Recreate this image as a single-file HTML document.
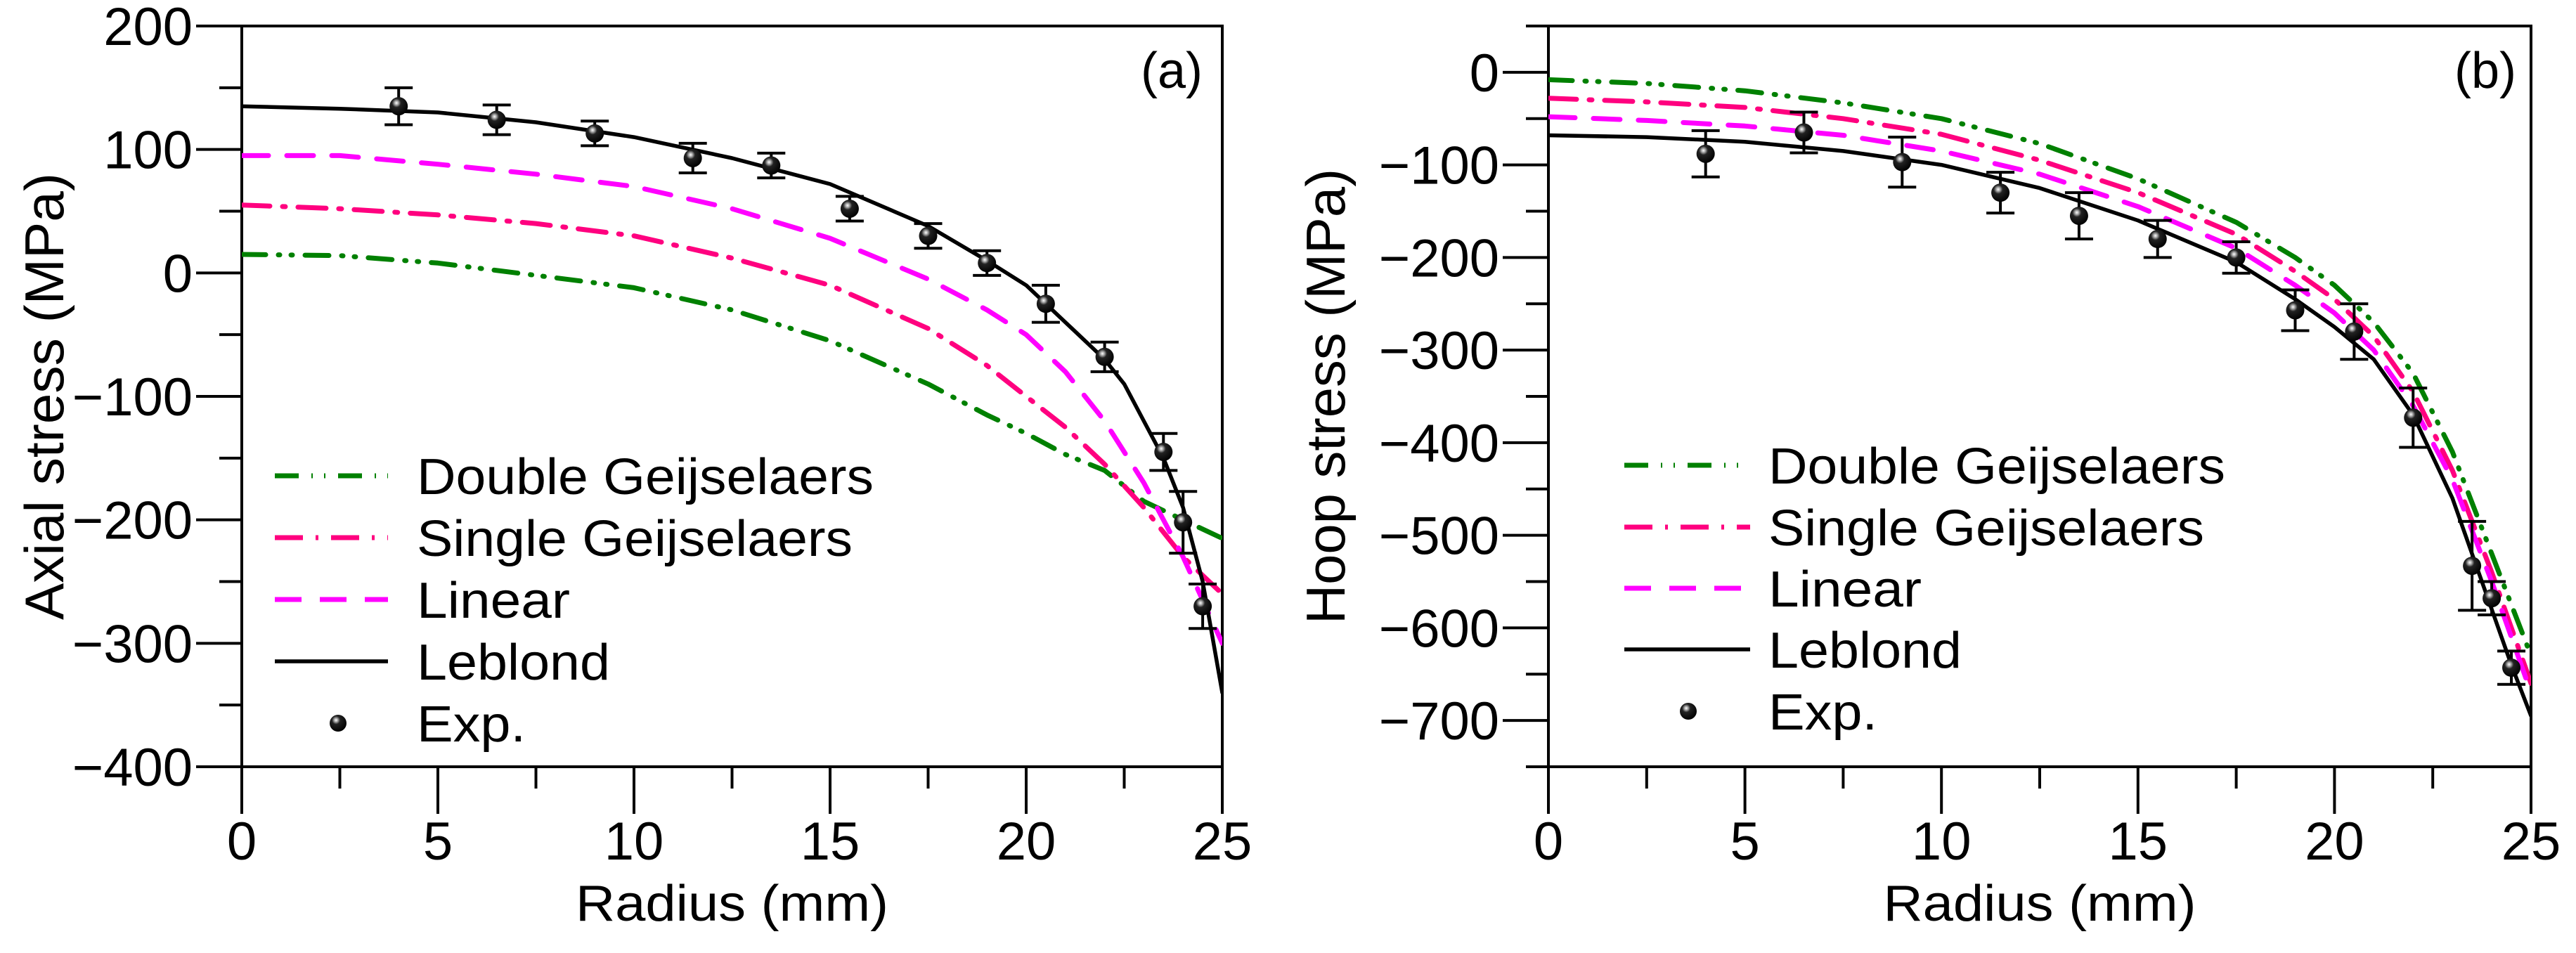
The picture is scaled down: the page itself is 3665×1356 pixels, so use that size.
<!DOCTYPE html>
<html><head><meta charset="utf-8"><style>
html,body{margin:0;padding:0;background:#fff}
svg{display:block}
text{font-family:"Liberation Sans",sans-serif;fill:#000}
</style></head><body>
<svg id="c" width="3665" height="1356" viewBox="0 0 3665 1356" xmlns="http://www.w3.org/2000/svg">
<defs>
<radialGradient id="ball" cx="0.38" cy="0.32" r="0.7">
<stop offset="0" stop-color="#fff"/><stop offset="0.15" stop-color="#aaa"/><stop offset="0.35" stop-color="#222"/><stop offset="1" stop-color="#000"/>
</radialGradient>
<clipPath id="clipA"><rect x="344" y="37" width="1395" height="1054"/></clipPath>
<clipPath id="clipB"><rect x="2203" y="37" width="1398" height="1054"/></clipPath>
</defs>
</svg>
<script>
// ---- Panel (a) data: axial stress ----
const radiusA = [0, 2.5, 5, 7.5, 10, 12.5, 15, 17.5, 19, 20, 21, 22, 22.5, 23, 23.5, 24, 24.5, 25];
const leblondA = [135, 133, 130, 122, 110, 93, 72, 38, 10, -10, -40, -70, -90, -120, -150, -190, -250, -340];
const radiusLinA = [0, 2.5, 5, 7.5, 10, 12.5, 15, 17.5, 19, 20, 21, 22, 23, 24, 24.5, 25];
const linearA = [95, 95, 88, 80, 70, 52, 28, -5, -30, -50, -80, -120, -170, -230, -265, -300];
const radiusGA = [0, 2.5, 5, 7.5, 10, 12.5, 15, 17.5, 19, 20, 21, 22, 23, 24, 25];
const singleA = [55, 52, 47, 40, 30, 12, -10, -45, -75, -100, -125, -155, -190, -230, -260];
const doubleA = [15, 14, 8, -2, -12, -30, -55, -90, -115, -130, -147, -160, -185, -200, -215];
const expRA = [4, 6.5, 9, 11.5, 13.5, 15.5, 17.5, 19, 20.5, 22, 23.5, 24, 24.5];
const expA = [135, 124, 113, 93, 87, 52, 30, 8, -25, -68, -145, -202, -270];
const errA = [15, 12, 10, 12, 10, 10, 10, 10, 15, 12, 15, 25, 18];
const yTicksA = [200, 100, 0, -100, -200, -300, -400];
// ---- Panel (b) data: hoop stress ----
const radiusB = [0, 2.5, 5, 7.5, 10, 12.5, 15, 17.5, 19, 20, 21, 22, 23, 23.5, 24, 24.5, 25];
const leblondB = [-68, -70, -75, -85, -100, -125, -160, -205, -245, -275, -310, -370, -460, -520, -580, -640, -695];
const radiusMB = [0, 2.5, 5, 7.5, 10, 12.5, 15, 17.5, 19, 20, 21, 22, 23, 24, 25];
const linearB = [-48, -52, -58, -68, -85, -110, -145, -190, -230, -260, -300, -360, -440, -550, -670];
const singleB = [-28, -32, -38, -50, -67, -95, -130, -175, -215, -245, -285, -345, -430, -540, -660];
const doubleB = [-8, -12, -20, -33, -50, -77, -115, -162, -200, -230, -270, -325, -410, -520, -630];
const expRB = [4, 6.5, 9, 11.5, 13.5, 15.5, 17.5, 19, 20.5, 22, 23.5, 24, 24.5];
const expB = [-88, -65, -97, -130, -155, -180, -200, -257, -280, -373, -533, -568, -643];
const errB = [25, 22, 27, 22, 25, 20, 17, 22, 30, 32, 48, 18, 18];
const yTicksB = [0, -100, -200, -300, -400, -500, -600, -700];
const xTicks = [0, 5, 10, 15, 20, 25];

const NS = "http://www.w3.org/2000/svg";
const svg = document.getElementById('c');
function mk(tag, attrs, parent) {
  const e = document.createElementNS(NS, tag);
  for (const k in attrs) e.setAttribute(k, attrs[k]);
  (parent || svg).appendChild(e);
  return e;
}
function txt(s, attrs, parent) { const t = mk('text', attrs, parent); t.textContent = s; return t; }

function panel(cfg) {
  const g = mk('g', {});
  
  
  const L = cfg.L, R = cfg.R, T = 37, B = 1091;
  const sx = v => L + (v - 0) / 25 * (R - L);
  const sy = v => T + (cfg.ymax - v) / (cfg.ymax - cfg.ymin) * (B - T);
  const fr = mk('rect', {x: L, y: T, width: R - L, height: B - T, fill: 'none', stroke: '#000', 'stroke-width': 4}, g);
  
  
  for (let v = cfg.ymin; v <= cfg.ymax; v += 50) {
    const major = v % 100 === 0;
    const tk = mk('line', {x1: L - (major ? 65 : 32), x2: L, y1: sy(v), y2: sy(v), stroke: '#000', 'stroke-width': 4}, g);
    
    
  }
  cfg.yTicks.forEach(v => {
    const s = (v < 0 ? '\u2212' + (-v) : String(v));
    const t = txt(s, {x: L - 70, y: sy(v) + 27, 'font-size': 76, 'text-anchor': 'end'}, g);
    
    
  });
  for (let v = 0; v <= 25; v += 2.5) {
    const major = v % 5 === 0;
    const tk = mk('line', {x1: sx(v), x2: sx(v), y1: B, y2: B + (major ? 67 : 31), stroke: '#000', 'stroke-width': 4}, g);
    
    
  }
  xTicks.forEach(v => {
    const t = txt(String(v), {x: sx(v), y: B + 132, 'font-size': 76, 'text-anchor': 'middle'}, g);
    
    
  });
  const xt = txt('Radius (mm)', {x: (L + R) / 2, y: 1310, 'font-size': 72, 'text-anchor': 'middle', textLength: 445, lengthAdjust: 'spacingAndGlyphs'}, g);
  
  
  const yt = txt(cfg.ytitle, {x: 0, y: 0, 'font-size': 78, 'text-anchor': 'middle', transform: `translate(${cfg.ytx},${(T + B) / 2}) rotate(-90)`, textLength: cfg.ytlen, lengthAdjust: 'spacingAndGlyphs'}, g);
  
  
  const pl = txt(cfg.label, {x: cfg.lblx, y: 125, 'font-size': 72, 'text-anchor': 'middle'}, g);
  
  

  const cg = mk('g', {'clip-path': `url(#${cfg.clip})`}, g);
  function series(xs, ys, color, dash, name) {
    const d = xs.map((x, i) => (i ? 'L' : 'M') + sx(x).toFixed(1) + ',' + sy(ys[i]).toFixed(1)).join(' ');
    const p = mk('path', {d: d, fill: 'none', stroke: color, 'stroke-width': dash ? 7 : 5.5, 'stroke-dasharray': dash || 'none', 'stroke-linecap': 'round', 'stroke-linejoin': 'round'}, cg);
    
    
  }
  series(cfg.dx, cfg.dbl, '#008000', '34,18,2,16,2,18', 'double-geijselaers-line');
  series(cfg.dx, cfg.sgl, '#ff007f', '40,18,4,18', 'single-geijselaers-line');
  series(cfg.lx, cfg.lin, '#ff00ff', '38,26', 'linear-line');
  series(cfg.bx, cfg.leb, '#000', null, 'leblond-line');
  cfg.ex.forEach((x, i) => {
    const cx = sx(x), cy = sy(cfg.ey[i]), e = cfg.ee[i];
    const eg = mk('g', {}, g);
    
    
    mk('line', {x1: cx, x2: cx, y1: sy(cfg.ey[i] + e), y2: sy(cfg.ey[i] - e), stroke: '#000', 'stroke-width': 4}, eg);
    mk('line', {x1: cx - 20, x2: cx + 20, y1: sy(cfg.ey[i] + e), y2: sy(cfg.ey[i] + e), stroke: '#000', 'stroke-width': 4}, eg);
    mk('line', {x1: cx - 20, x2: cx + 20, y1: sy(cfg.ey[i] - e), y2: sy(cfg.ey[i] - e), stroke: '#000', 'stroke-width': 4}, eg);
    mk('circle', {cx: cx, cy: cy, r: 13, fill: 'url(#ball)'}, eg);
  });
  const lg = mk('g', {}, g);
  
  
  const items = [
    ['Double Geijselaers', '#008000', '34,18,2,16,2,18', 650],
    ['Single Geijselaers', '#ff007f', '40,18,4,18', 620],
    ['Linear', '#ff00ff', '38,26', 218],
    ['Leblond', '#000', null, 275],
    ['Exp.', null, null, 155]
  ];
  items.forEach((it, i) => {
    const y = cfg.legY[i];
    const eg = mk('g', {}, lg);
    
    
    if (it[1]) {
      mk('line', {x1: cfg.legX1, x2: cfg.legX2, y1: y, y2: y, stroke: it[1], 'stroke-width': it[2] ? 7 : 5.5, 'stroke-dasharray': it[2] || 'none'}, eg);
    } else {
      mk('circle', {cx: cfg.legDot, cy: y, r: 12, fill: 'url(#ball)'}, eg);
    }
    txt(it[0], {x: cfg.legTx, y: y + 26, 'font-size': 72, textLength: it[3], lengthAdjust: 'spacingAndGlyphs'}, eg);
  });
}

panel({name: 'axial-stress-chart', L: 344, R: 1739, ymin: -400, ymax: 200, yTicks: yTicksA,
  ytitle: 'Axial stress (MPa)', ytx: 90, ytlen: 636, label: '(a)', lblx: 1667, clip: 'clipA',
  dx: radiusGA, dbl: doubleA, sgl: singleA, lx: radiusLinA, lin: linearA, bx: radiusA, leb: leblondA,
  ex: expRA, ey: expA, ee: errA,
  legY: [677, 765, 853, 941, 1029], legX1: 391, legX2: 552, legTx: 593, legDot: 481});
panel({name: 'hoop-stress-chart', L: 2203, R: 3601, ymin: -750, ymax: 50, yTicks: yTicksB,
  ytitle: 'Hoop stress (MPa)', ytx: 1913, ytlen: 648, label: '(b)', lblx: 3536, clip: 'clipB',
  dx: radiusMB, dbl: doubleB, sgl: singleB, lx: radiusMB, lin: linearB, bx: radiusB, leb: leblondB,
  ex: expRB, ey: expB, ee: errB,
  legY: [662, 750, 837, 924, 1012], legX1: 2311, legX2: 2490, legTx: 2516, legDot: 2402});
</script>
</body></html>
